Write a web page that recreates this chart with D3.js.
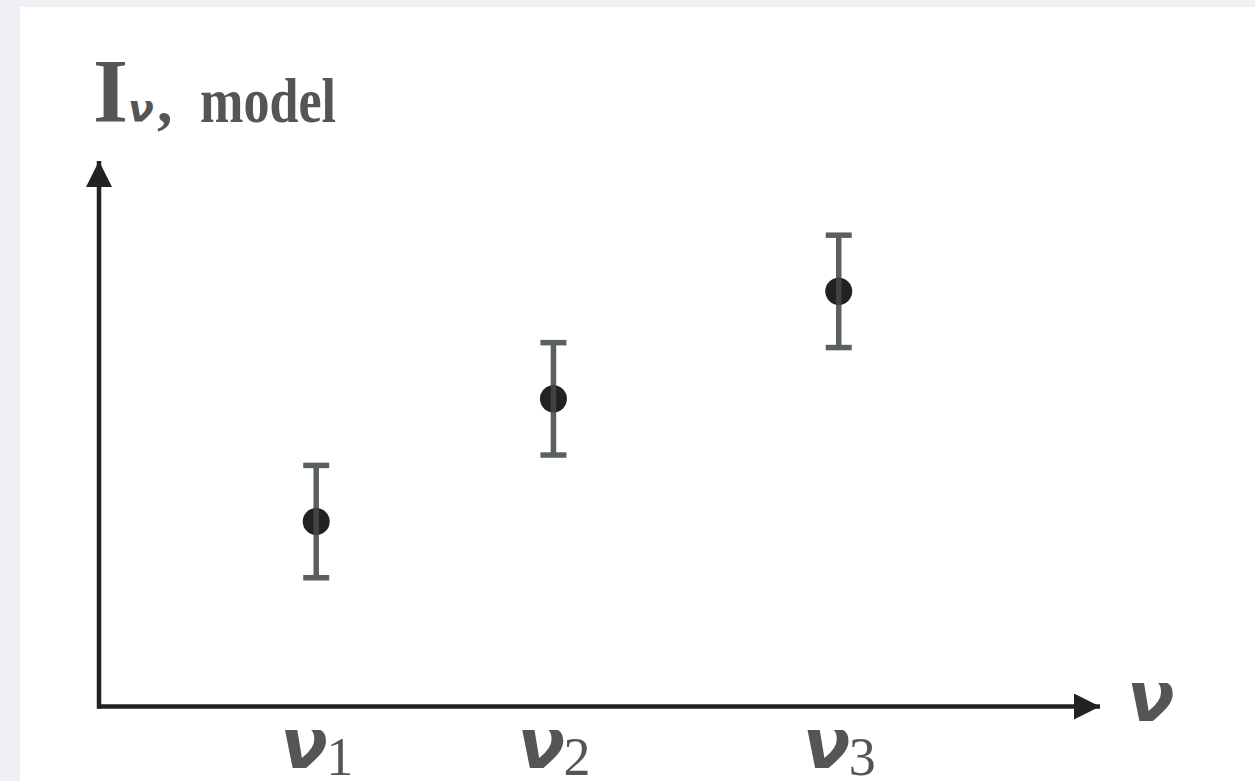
<!DOCTYPE html>
<html>
<head>
<meta charset="utf-8">
<script src="https://cdn.jsdelivr.net/npm/d3@7"></script>
<style>
  html, body { margin: 0; padding: 0; background: #eef0f3; }
  svg { display: block; }
</style>
</head>
<body>
<svg id="chart" width="1255" height="781"></svg>
<script>
// Model intensity at three frequencies, with symmetric uncertainties (arbitrary units)
const freqLabels = ["1", "2", "3"];
const freqValues = [0.217, 0.454, 0.739];
const intensity = [0.339, 0.564, 0.761];
const intensityErr = [0.103, 0.103, 0.103];

const svg = d3.select("#chart");
const W = 1255, H = 781;

// white panel
svg.append("rect").attr("x", 20).attr("y", 7).attr("width", W - 20).attr("height", H - 7).attr("fill", "#ffffff");

const x0 = 99, x1 = 1100, y0 = 706.5, y1 = 161;
const x = d3.scaleLinear().domain([0, 1]).range([x0, x1]);
const y = d3.scaleLinear().domain([0, 1]).range([y0, y1]);

const axisColor = "#222222";
const textColor = "#555555";
const serif = "'Liberation Serif', 'Times New Roman', serif";
const greek = "'DejaVu Sans', sans-serif";

// arrow heads
const defs = svg.append("defs");
defs.append("marker")
  .attr("id", "arrow")
  .attr("viewBox", "0 0 26 26")
  .attr("refX", 26).attr("refY", 13)
  .attr("markerWidth", 26).attr("markerHeight", 26)
  .attr("markerUnits", "userSpaceOnUse")
  .attr("orient", "auto")
  .append("path").attr("d", "M0,0 L26,13 L0,26 Z").attr("fill", axisColor);

// axes
svg.append("line")
  .attr("x1", x(0) - 2).attr("y1", y(0)).attr("x2", x(1)).attr("y2", y(0))
  .attr("stroke", axisColor).attr("stroke-width", 4.5)
  .attr("marker-end", "url(#arrow)");
svg.append("line")
  .attr("x1", x(0)).attr("y1", y(0) + 2).attr("x2", x(0)).attr("y2", y(1))
  .attr("stroke", axisColor).attr("stroke-width", 4.5)
  .attr("marker-end", "url(#arrow)");

const data = freqValues.map((f, i) => ({ f, v: intensity[i], e: intensityErr[i], lab: freqLabels[i] }));

// error bars
const errColor = "#5a5f5f";
const capHalf = 13;
const g = svg.append("g");
data.forEach(d => {
  const cx = x(d.f);
  g.append("line").attr("x1", cx).attr("x2", cx)
    .attr("y1", y(d.v + d.e)).attr("y2", y(d.v - d.e))
    .attr("stroke", errColor).attr("stroke-width", 5.5);
  [d.v + d.e, d.v - d.e].forEach(v => {
    g.append("line").attr("x1", cx - capHalf).attr("x2", cx + capHalf)
      .attr("y1", y(v)).attr("y2", y(v))
      .attr("stroke", errColor).attr("stroke-width", 5.5);
  });
});

// points
svg.append("g").selectAll("circle").data(data).join("circle")
  .attr("cx", d => x(d.f)).attr("cy", d => y(d.v)).attr("r", 13.5)
  .attr("fill", "#222222");

// stem drawn again across each point
data.forEach(d => {
  const cx = x(d.f);
  svg.append("line").attr("x1", cx).attr("x2", cx)
    .attr("y1", y(d.v) - 13.5).attr("y2", y(d.v) + 13.5)
    .attr("stroke", errColor).attr("stroke-width", 5.5).attr("stroke-opacity", 0.55);
});

// frequency tick labels: ν with a numeric subscript
const ticks = svg.append("g").selectAll("g").data(data).join("g")
  .attr("transform", d => `translate(${x(d.f)},0)`);
ticks.append("text")
  .attr("x", -36).attr("y", 768)
  .attr("fill", textColor).attr("font-family", greek)
  .attr("font-size", 70).attr("font-weight", "bold").attr("font-style", "oblique")
  .text("ν");
ticks.append("text")
  .attr("x", 10).attr("y", 775)
  .attr("fill", textColor).attr("font-family", serif)
  .attr("font-size", 54)
  .text(d => d.lab);

// x-axis label
svg.append("text")
  .attr("x", 1127).attr("y", 721)
  .attr("fill", textColor).attr("font-family", greek)
  .attr("font-size", 70).attr("font-weight", "bold").attr("font-style", "oblique")
  .text("ν");

// y-axis title: I with subscript "ν, model"
const title = svg.append("g").attr("fill", textColor).attr("font-weight", "bold");
title.append("text").attr("x", 93).attr("y", 122)
  .attr("font-family", serif).attr("font-size", 90).text("I");
title.append("text").attr("x", 128).attr("y", 122)
  .attr("font-family", greek).attr("font-size", 38).attr("font-style", "oblique").text("ν");
title.append("text").attr("x", 157).attr("y", 122)
  .attr("font-family", serif).attr("font-size", 62).text(",");
title.append("text").attr("x", 200).attr("y", 122)
  .attr("font-family", serif).attr("font-size", 64)
  .attr("textLength", 136).attr("lengthAdjust", "spacingAndGlyphs").text("model");
</script>
</body>
</html>
